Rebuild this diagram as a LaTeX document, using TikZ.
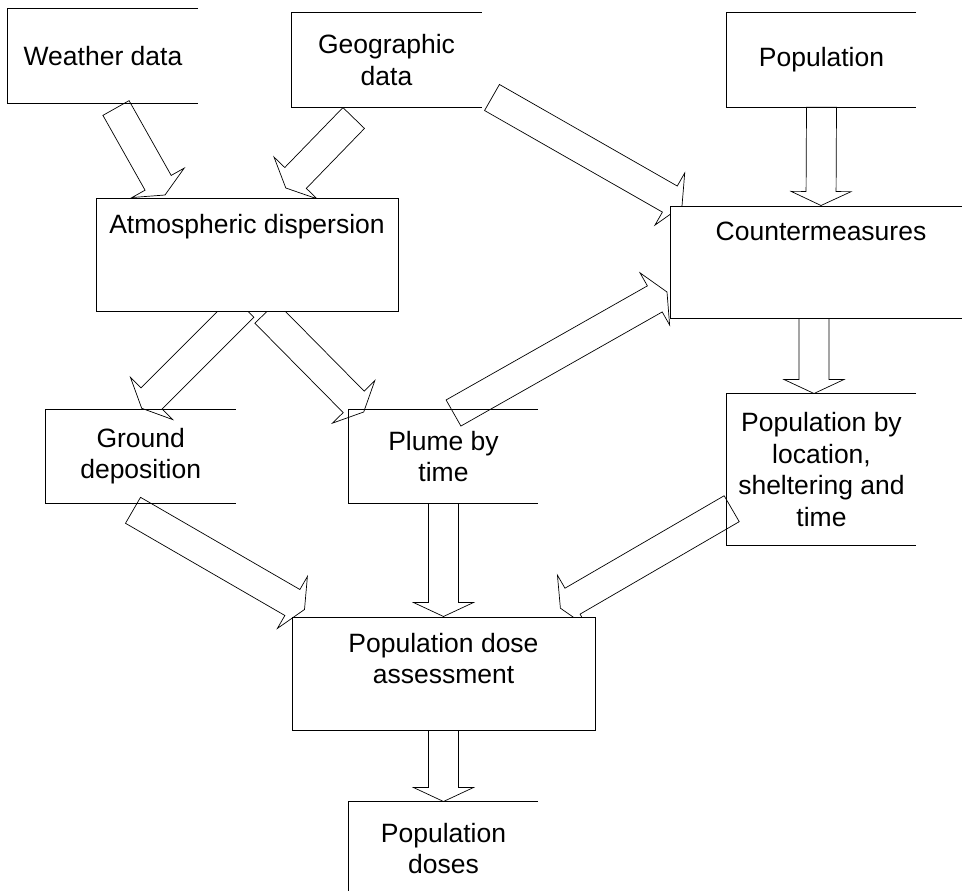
\documentclass[tikz,border=0pt]{standalone}
\usepackage{fontspec}
\setmainfont{Liberation Sans}
\usetikzlibrary{calc,positioning,backgrounds}

% hollow block arrow, tail #1 to tip #2
\newcommand{\fatarrow}[2]{%
  \path[fatarr] let \p1=($(#2)-(#1)$), \n1={atan2(\y1,\x1)}, \n2={veclen(\x1,\y1)-14pt} in
    ($(#1)+(\n1+90:15pt)$) -- ++(\n1:\n2) -- ++(\n1+90:15pt) -- (#2)
    -- ($(#2)+(\n1+180:14pt)+(\n1-90:30pt)$) -- ++(\n1+90:15pt)
    -- ($(#1)+(\n1-90:15pt)$) -- cycle;}

\begin{document}
\begin{tikzpicture}[x=1pt, y=-1pt,
    box/.style={inner sep=0pt, align=center, font=\fontsize{26.5}{31.5}\selectfont, minimum width=190pt, minimum height=94pt},
    fullbox/.style={box, draw, line width=1pt, fill=white},
    boxline/.style={line width=1pt},
    fatarr/.style={draw, line width=0.7pt, fill=white, line join=miter}
]
\useasboundingbox (0,0) rectangle (962,891);
\clip (0,0) rectangle (962,891);

    % inputs
    \node[box] (weather) at (103,56) {Weather data};
    \node[box] (geo) at (386.5,60) {Geographic\\data};
    \node[box, minimum width=189pt] (pop) at (821.5,60) {Population};

    % models
    \node[fullbox, anchor=north, minimum width=302pt, text height=35pt, text depth=78pt] (atmos) at (247,198) {Atmospheric dispersion};
    \node[fullbox, anchor=north, minimum width=302pt, text height=34pt, text depth=78pt] (counter) at (821,205.5) {Countermeasures};

    \node[box] (ground) at (140.7,456.3) {Ground\\deposition};
    \node[box, minimum width=189pt] (plume) at (443.5,456.3) {Plume by\\time};
    \node[box, minimum width=189pt, minimum height=151pt] (popby) at (821.5,469.5) {Population by\\location,\\sheltering and\\time};

    \node[fullbox, minimum width=303pt, minimum height=113pt] (dose) at (443.5,673.5) {\rule{0pt}{35pt}Population dose\\assessment\rule[-46pt]{0pt}{0pt}};
    \node[box, minimum width=189pt] (doses) at (443.5,848.7) {Population\\doses};

    % boxes open on the right
    \foreach \b in {weather,geo,pop,ground,plume,popby,doses}
        \draw[boxline] (\b.north east) -- (\b.north west) -- (\b.south west) -- (\b.south east);

    \begin{scope}[on background layer]
        \coordinate (wa-s) at (116,108);
        \coordinate (wa-e) at (165,195);
        \coordinate (ga-s) at (353.7,118);
        \coordinate (ga-e) at (285.8,188);
        \coordinate (gc-s) at (492,97.5);
        \coordinate (gc-e) at (682,206);
        \coordinate (ag-s) at (243.3,306.7);
        \coordinate (ag-e) at (141.7,408.3);
        \coordinate (ap-s) at (265.6,312.7);
        \coordinate (ap-e) at (363.7,412);
        \coordinate (cp-s) at (814,318);
        \coordinate (cp-e) at (814,393.5);
        \coordinate (pc-s) at (453.5,413);
        \coordinate (pc-e) at (667,292);
        \coordinate (gd-s) at (133,510.3);
        \coordinate (gd-e) at (304.5,609.5);
        \coordinate (bd-s) at (731.7,508.7);
        \coordinate (bd-e) at (560.4,608.2);

        \fatarrow{wa-s}{wa-e}
        \fatarrow{ga-s}{ga-e}
        \fatarrow{gc-s}{gc-e}
        \fatarrow{pop.south}{counter.north}
        \fatarrow{ag-s}{ag-e}
        \fatarrow{ap-s}{ap-e}
        \fatarrow{cp-s}{cp-e}
        \fatarrow{pc-s}{pc-e}
        \fatarrow{gd-s}{gd-e}
        \fatarrow{plume.south}{dose.north}
        \fatarrow{bd-s}{bd-e}
        \fatarrow{dose.south}{doses.north}
    \end{scope}

\end{tikzpicture}
\end{document}
